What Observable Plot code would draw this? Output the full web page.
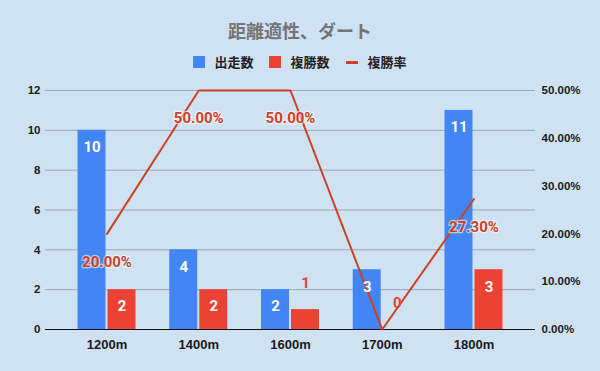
<!DOCTYPE html>
<html><head><meta charset="utf-8">
<script src="https://cdn.jsdelivr.net/npm/d3@7"></script>
<script src="https://cdn.jsdelivr.net/npm/@observablehq/plot@0.6"></script>
<style>
body{margin:0;background:#cfe2f3;width:600px;height:371px;overflow:hidden;position:relative}
#title{position:absolute;top:19px;left:0;width:600px;text-align:center;font-family:"Noto Sans CJK JP",Roboto,sans-serif;font-size:18px;font-weight:bold;color:#757575;line-height:22px}
#legend{position:absolute;top:54px;left:0;width:600px;display:flex;justify-content:center;align-items:center;font-family:"Noto Sans CJK JP",Roboto,sans-serif;font-size:13px;font-weight:bold;color:#222;line-height:16px}
#legend .sw{width:12px;height:12px;margin-right:9px}
#legend .ln{width:12px;height:3px;margin-right:10px}
#legend .it{display:flex;align-items:center;margin:0 8px}
#chart{position:absolute;top:75px;left:0}
</style></head>
<body>
<div id="title"></div>
<div id="legend"></div>
<div id="chart"></div>
<script>
const title = "距離適性、ダート";
const seriesNames = ["出走数", "複勝数", "複勝率"];
const categories = ["1200m", "1400m", "1600m", "1700m", "1800m"];
const runs = [10, 4, 2, 3, 11];
const places = [2, 2, 1, 0, 3];
const placeRate = [20.00, 50.00, 50.00, 0.00, 27.30];
const leftTicks = [0, 2, 4, 6, 8, 10, 12];
const rightTicks = [0, 10, 20, 30, 40, 50];

const blue = "#4285f4", red = "#ea4335", lineColor = "#cc4125";
const leftMax = 12, rightMax = 50;
const rateToY = r => r * leftMax / rightMax;

document.getElementById("title").textContent = title;
const legend = document.getElementById("legend");
[[seriesNames[0], blue, "sw"], [seriesNames[1], red, "sw"], [seriesNames[2], lineColor, "ln"]].forEach(([name, color, cls]) => {
  const it = document.createElement("div"); it.className = "it";
  const s = document.createElement("div"); s.className = cls; s.style.background = color;
  const t = document.createElement("span"); t.textContent = name;
  it.appendChild(s); it.appendChild(t); legend.appendChild(it);
});

const table = categories.map((c, i) => ({cat: c, runs: runs[i], places: places[i], rate: placeRate[i]}));

const chart = Plot.plot({
  width: 600,
  height: 296,
  marginLeft: 45,
  marginRight: 65,
  marginTop: 15,
  marginBottom: 42,
  style: {background: "transparent", fontFamily: "Arial, 'Liberation Sans', sans-serif", fontSize: "11.5px", fontWeight: "bold", color: "#1a1a1a"},
  x: {domain: categories, paddingInner: 0.368, paddingOuter: 0.3545, round: false, label: null},
  y: {domain: [0, leftMax], label: null},
  marks: [
    Plot.ruleY(leftTicks.filter(t => t > 0), {stroke: "#9ba8b5", strokeWidth: 1}),
    Plot.barY(table, {x: "cat", y: "runs", fill: blue, insetRight: 30}),
    Plot.barY(table, {x: "cat", y: "places", fill: red, insetLeft: 30}),
    Plot.ruleY([0], {stroke: "#111", strokeWidth: 1}),
    Plot.line(table, {x: "cat", y: d => rateToY(d.rate), stroke: lineColor, strokeWidth: 2}),
    Plot.text(table, {x: "cat", y: "runs", text: d => String(d.runs), dx: -15, dy: 17, fill: "white", fontSize: 15, fontWeight: "bold", fontFamily: "Roboto"}),
    Plot.text(table.filter(d => d.places >= 2), {x: "cat", y: "places", text: d => String(d.places), dx: 15, dy: 17, fill: "white", fontSize: 15, fontWeight: "bold", fontFamily: "Roboto"}),
    Plot.text(table.filter(d => d.places < 2), {x: "cat", y: "places", text: d => String(d.places), dx: 15, dy: -26, fill: red, fontSize: 15, fontWeight: "bold", fontFamily: "Roboto"}),
    Plot.text(table.filter(d => d.rate > 0), {x: "cat", y: d => rateToY(d.rate), text: d => d.rate.toFixed(2) + "%", dy: 28, fill: lineColor, stroke: "white", strokeWidth: 2.5, strokeOpacity: 0.6, fontSize: 15, fontWeight: "bold", fontFamily: "Roboto"}),
    Plot.axisY({ticks: leftTicks, anchor: "left", tickSize: 0, tickPadding: 5, label: null}),
    Plot.axisY({ticks: rightTicks.map(rateToY), anchor: "right", tickSize: 0, tickPadding: 6, label: null, tickFormat: v => (v * rightMax / leftMax).toFixed(2) + "%"}),
    Plot.axisX({tickSize: 0, tickPadding: 10, label: null, fontSize: 13})
  ]
});
document.getElementById("chart").appendChild(chart);
</script>
</body></html>
